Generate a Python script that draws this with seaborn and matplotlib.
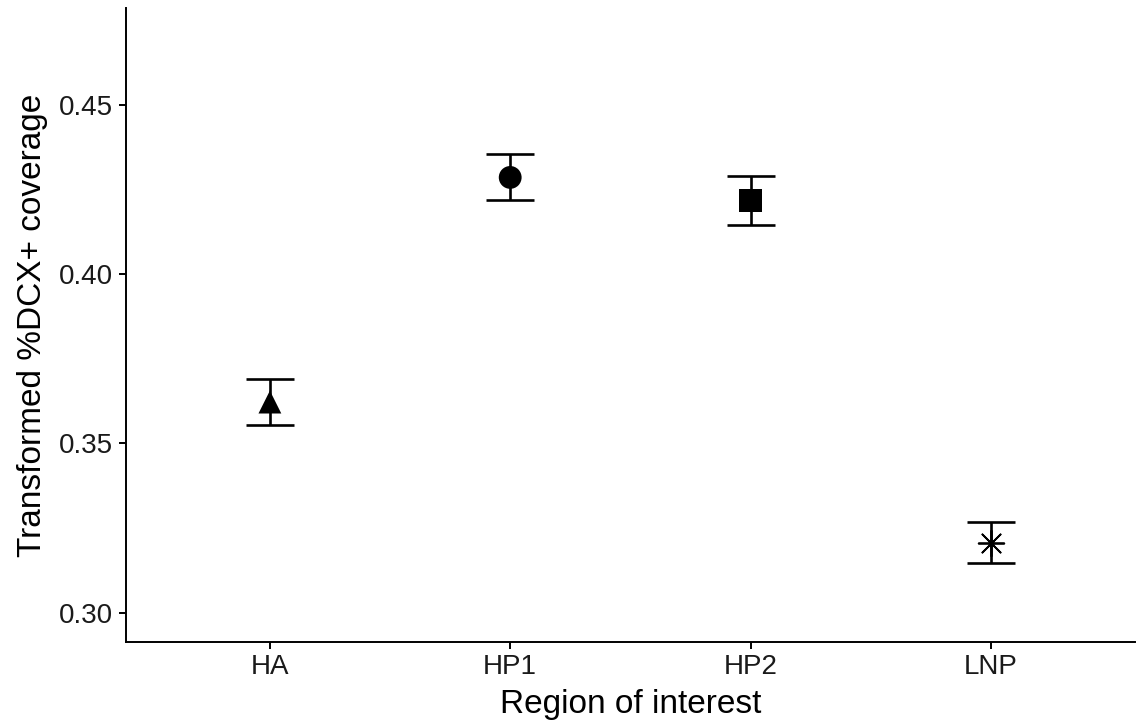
import matplotlib
matplotlib.use("Agg")
import matplotlib.pyplot as plt
import seaborn as sns
import pandas as pd

# ---- data ----
regions = ["HA", "HP1", "HP2", "LNP"]
means = [0.3622, 0.4285, 0.4217, 0.3207]
errors = [0.0067, 0.0068, 0.0071, 0.0060]
y_ticks = [0.30, 0.35, 0.40, 0.45]
y_tick_labels = ["0.30", "0.35", "0.40", "0.45"]

sns.set_theme(style="ticks")
plt.rcParams['font.family'] = ['Liberation Sans', 'DejaVu Sans']

df = pd.DataFrame({"region": regions, "mean": means, "se": errors})
df_filled = df[df["region"] != "LNP"]
df_star = df[df["region"] == "LNP"]

W, H = 1138, 727
fig = plt.figure(figsize=(W / 100, H / 100), dpi=100)
left, right, bottom, top = 125.7, 1135, 642, 8
ax = fig.add_axes([left / W, 1 - bottom / H, (right - left) / W, (bottom - top) / H])

ax.errorbar(df["region"], df["mean"], yerr=df["se"], fmt="none", ecolor="black",
            elinewidth=1.9, capsize=17, capthick=1.9, zorder=2)

sns.scatterplot(data=df_filled, x="region", y="mean", style="region",
                markers={"HA": "^", "HP1": "o", "HP2": "s"},
                color="black", s=270, linewidth=0, ax=ax, legend=False, zorder=3)
sns.scatterplot(data=df_star, x="region", y="mean", marker=(8, 2, 0),
                color="black", s=340, linewidth=1.3, ax=ax, legend=False, zorder=3)

ax.set_xlim(-0.6, 3.6)
ax.set_ylim(0.2914, 0.4785)
ax.set_yticks(y_ticks)
ax.set_yticklabels(y_tick_labels)

for s in ["top", "right"]:
    ax.spines[s].set_visible(False)
for s in ["left", "bottom"]:
    ax.spines[s].set_linewidth(1.4)
    ax.spines[s].set_color("black")

ax.tick_params(axis="both", length=5, width=1.4, color="black",
               labelsize=20, labelcolor="#1a1a1a", pad=4)

ax.set_xlabel("Region of interest", fontsize=24, color="black", labelpad=6)
ax.set_ylabel("Transformed %DCX+ coverage", fontsize=24, color="black", labelpad=8)

fig.savefig("out.png", dpi=100, facecolor="white")
